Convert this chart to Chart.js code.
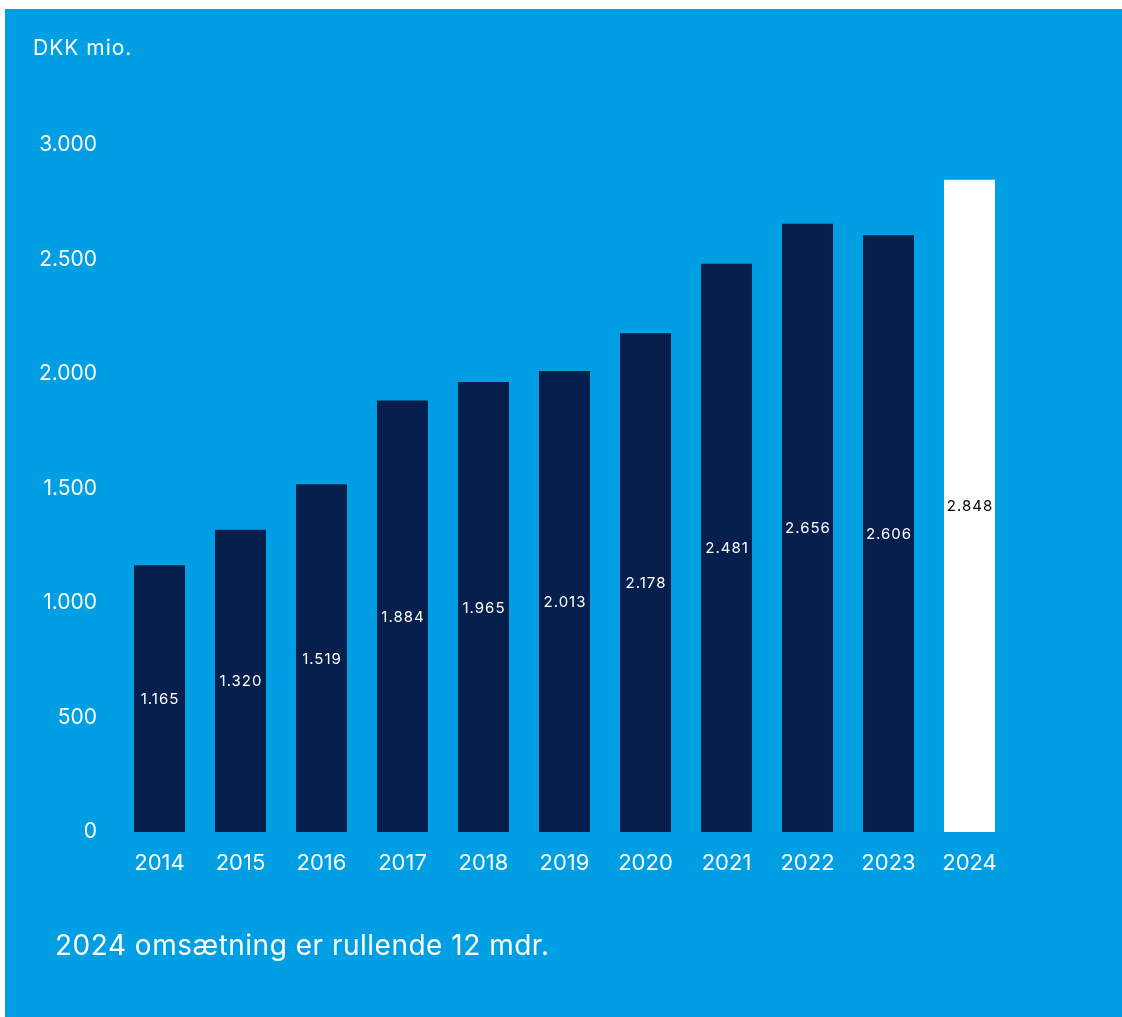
<!DOCTYPE html>
<html>
<head>
<meta charset="utf-8">
<script src="https://cdn.jsdelivr.net/npm/chart.js@4.4.1/dist/chart.umd.min.js"></script>
<style>
  html, body { margin: 0; padding: 0; background: #ffffff; width: 1122px; height: 1017px; overflow: hidden; }
  #panel { position: absolute; left: 5px; top: 9px; width: 1117px; height: 1008px; background: #009FE3; }
  #unit { position: absolute; left: 28px; top: 26px; color: #ffffff; font-family: Inter, sans-serif; font-size: 21px; letter-spacing: 1px; }
  #note { position: absolute; left: 50px; top: 919px; color: #ffffff; font-family: Inter, sans-serif; font-size: 28px; letter-spacing: 0.5px; }
  #wrap { position: absolute; left: 0; top: 0; width: 1117px; height: 1008px; }
</style>
</head>
<body>
<div id="panel">
  <div id="wrap"><canvas id="c"></canvas></div>
  <div id="unit">DKK mio.</div>
  <div id="note">2024 omsætning er rullende 12 mdr.</div>
</div>
<script>
const years = ['2014','2015','2016','2017','2018','2019','2020','2021','2022','2023','2024'];
const revenue = [1165, 1320, 1519, 1884, 1965, 2013, 2178, 2481, 2656, 2606, 2848];
const valueLabels = ['1.165','1.320','1.519','1.884','1.965','2.013','2.178','2.481','2.656','2.606','2.848'];
const barColors = ['#061F4C','#061F4C','#061F4C','#061F4C','#061F4C','#061F4C','#061F4C','#061F4C','#061F4C','#061F4C','#FFFFFF'];
const labelColors = ['#FFFFFF','#FFFFFF','#FFFFFF','#FFFFFF','#FFFFFF','#FFFFFF','#FFFFFF','#FFFFFF','#FFFFFF','#FFFFFF','#000000'];

function fmt(v) {
  return String(v).replace(/\B(?=(\d{3})+(?!\d))/g, '.');
}

const inBarLabels = {
  id: 'inBarLabels',
  afterDatasetsDraw(chart) {
    const ctx = chart.ctx;
    const meta = chart.getDatasetMeta(0);
    ctx.save();
    ctx.font = '15px Inter, sans-serif';
    ctx.letterSpacing = '1px';
    ctx.textAlign = 'center';
    ctx.textBaseline = 'middle';
    meta.data.forEach((bar, i) => {
      const p = bar.getProps(['x', 'y', 'base'], true);
      ctx.fillStyle = labelColors[i];
      ctx.fillText(valueLabels[i], p.x + 0.5, (p.y + p.base) / 2 + 1);
    });
    ctx.restore();
  }
};

new Chart(document.getElementById('c'), {
  type: 'bar',
  data: {
    labels: years,
    datasets: [{
      data: revenue,
      backgroundColor: barColors,
      borderWidth: 0,
      barPercentage: 0.63,
      categoryPercentage: 1.0
    }]
  },
  options: {
    responsive: true,
    maintainAspectRatio: false,
    animation: false,
    layout: { padding: { left: 0, right: 112, top: 136, bottom: 125 } },
    plugins: { legend: { display: false }, tooltip: { enabled: false } },
    scales: {
      y: {
        min: 0, max: 3000,
        grid: { display: false, drawTicks: false },
        border: { display: false },
        ticks: {
          stepSize: 500,
          color: '#FFFFFF',
          padding: 22,
          font: { family: 'Inter, sans-serif', size: 21 },
          callback: (v) => fmt(v)
        },
        afterFit(scale) { scale.width = 114; }
      },
      x: {
        grid: { display: false, drawTicks: false },
        border: { display: false },
        ticks: {
          color: '#FFFFFF',
          padding: 18,
          font: { family: 'Inter, sans-serif', size: 22 }
        },
        afterFit(scale) { scale.height = 60; }
      }
    }
  },
  plugins: [inBarLabels]
});
</script>
</body>
</html>
